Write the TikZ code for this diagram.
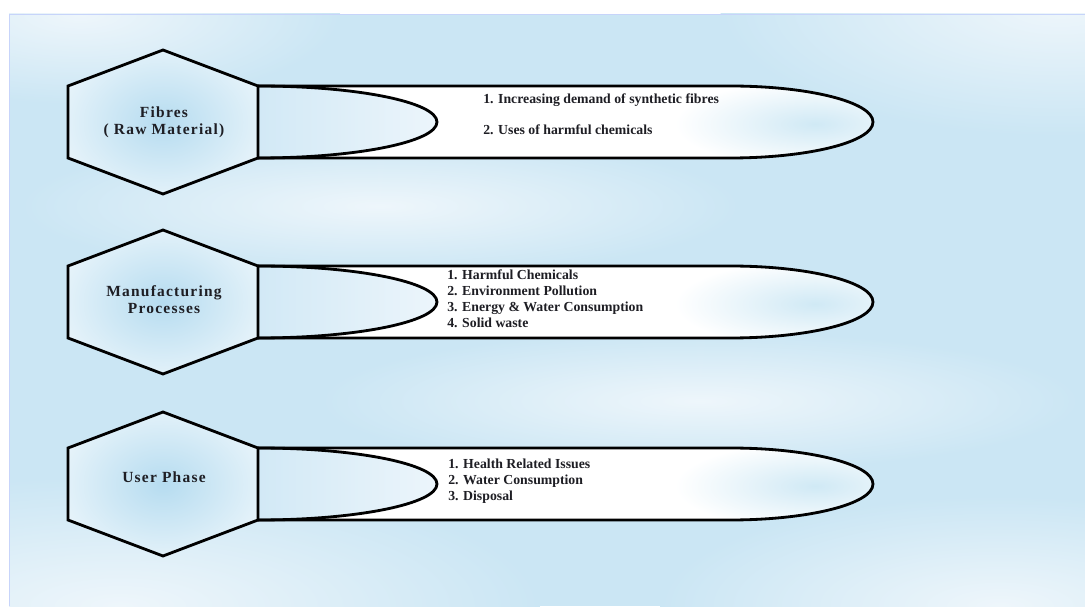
\documentclass[tikz,border=0pt]{standalone}
\usepackage{fontspec}
\setmainfont{Liberation Serif}
\newfontfamily\stagefont[LetterSpace=8]{Liberation Serif}

\definecolor{BackgroundColor}{RGB}{203,230,244}
\definecolor{HazeColor}{RGB}{238,246,251}
\definecolor{HexagonColor}{RGB}{182,220,240}
\definecolor{TipColor}{RGB}{208,233,245}
\definecolor{PocketColor}{RGB}{210,233,246}
\definecolor{PocketPale}{RGB}{236,245,251}
\definecolor{LabelColor}{RGB}{30,30,36}

\tikzstyle{outline}=[draw=black, line width=2pt]
\tikzstyle{stage-label}=[text=LabelColor,
                         align=center,
                         font=\stagefont\bfseries\fontsize{11}{12}\selectfont]
\tikzstyle{issue-list}=[text=LabelColor,
                        align=left,
                        anchor=west,
                        inner sep=0pt,
                        font=\bfseries\fontsize{9.8}{11.3}\selectfont]

% one hexagon with its ribbon, #1 = height of the row centre
\newcommand{\stagerow}[1]{%
  \begin{scope}
  \clip (258,#1+36) -- (730,#1+36) arc[start angle=90, end angle=-90, x radius=143, y radius=36] -- (258,#1-36) -- cycle;
  \fill[white] (258,#1-36) rectangle (880,#1+36);
  \shade[inner color=TipColor, outer color=white] (815,#1-2) ellipse (140 and 44);
  \end{scope}
  \shade[left color=PocketColor, right color=PocketPale] (258,#1+36) arc[start angle=90, end angle=-90, x radius=179, y radius=36] -- cycle;
  \draw[outline] (258,#1+36) -- (730,#1+36) arc[start angle=90, end angle=-90, x radius=143, y radius=36] -- (258,#1-36);
  \draw[outline] (258,#1+36) arc[start angle=90, end angle=-90, x radius=179, y radius=36];
  \begin{scope}
  \clip (163,#1+72) -- (68,#1+36) -- (68,#1-36) -- (163,#1-72) -- (258,#1-36) -- (258,#1+36) -- cycle;
  \fill[white] (68,#1-72) rectangle (258,#1+72);
  \shade[inner color=HexagonColor, outer color=white] (163,#1) ellipse (160 and 120);
  \end{scope}
  \draw[outline] (163,#1+72) -- (68,#1+36) -- (68,#1-36) -- (163,#1-72) -- (258,#1-36) -- (258,#1+36) -- cycle;
}

\begin{document}
\begin{tikzpicture}[x=0.025cm, y=0.025cm]
\useasboundingbox (0,0) rectangle (1085,606);
\fill[white] (0,0) rectangle (1085,606);

% background
\begin{scope}
\clip (9,0) rectangle (1085,592);
\fill[BackgroundColor] (9,0) rectangle (1085,592);
\shade[inner color=HazeColor, outer color=BackgroundColor] (1060,600) ellipse (340 and 130);
\shade[inner color=HazeColor, outer color=BackgroundColor] (80,592) ellipse (260 and 90);
\shade[inner color=HazeColor, outer color=BackgroundColor] (380,400) ellipse (360 and 70);
\shade[inner color=HazeColor, outer color=BackgroundColor] (700,205) ellipse (380 and 70);
\shade[inner color=HazeColor, outer color=BackgroundColor] (120,0) ellipse (420 and 130);
\shade[inner color=HazeColor, outer color=BackgroundColor] (1000,0) ellipse (340 and 110);
\end{scope}
\draw[BackgroundColor!80!blue!60, line width=0.6pt] (9,0) -- (9,592) -- (1085,592);

\stagerow{484}
\stagerow{304}
\stagerow{122}

\node at (164,484) (fibres)        [stage-label] {Fibres\\( Raw Material)};
\node at (164,306) (manufacturing) [stage-label] {Manufacturing\\Processes};
\node at (164,129) (user)          [stage-label] {User Phase};

\node at (483,492) (fibres-issues)        [issue-list] {1. Increasing demand of synthetic fibres\\[10.7pt]2. Uses of harmful chemicals};
\node at (447,307) (manufacturing-issues) [issue-list] {1. Harmful Chemicals\\2. Environment Pollution\\3. Energy \& Water Consumption\\4. Solid waste};
\node at (448,125) (user-issues)          [issue-list] {1. Health Related Issues\\2. Water Consumption\\3. Disposal};
\end{tikzpicture}
\end{document}
